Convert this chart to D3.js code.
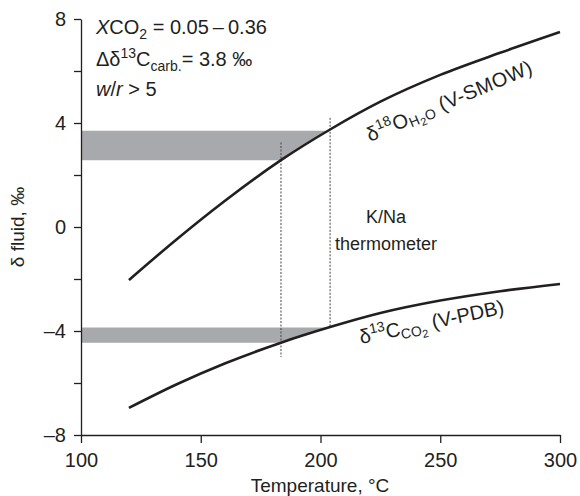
<!DOCTYPE html>
<html>
<head>
<meta charset="utf-8">
<script src="https://cdn.jsdelivr.net/npm/d3@7"></script>
<style>
  body { margin: 0; background: #fff; }
  svg { font-family: "Liberation Sans", Arial, sans-serif; }
</style>
</head>
<body>
<div class="chart"></div>
<script>
// temperature (°C) and curve values (‰)
var oxygenT = [120, 140, 160, 183.5, 204, 225, 250, 275, 300]
var oxygenD = [-2.04, -0.47, 1.0, 2.57, 3.75, 4.82, 5.85, 6.7, 7.5]
var carbonT = [120, 140, 160, 183.5, 204, 225, 250, 275, 300]
var carbonD = [-6.96, -6.05, -5.25, -4.45, -3.85, -3.31, -2.83, -2.47, -2.19]

// grey ranges of measured fluid values: T at top edge, T at bottom edge, top, bottom
var bandTop = [203, 204]
var bandBottom = [183.5, 183.5]
var bandHigh = [3.7, -3.87]
var bandLow = [2.57, -4.45]

// K/Na thermometer range (dotted lines)
var thermoT = [183.5, 204]
var thermoFrom = [3.25, 4.2]
var thermoTo = [-5.0, -3.85]

var xTicks = [100, 150, 200, 250, 300]
var yTicks = [-8, -6, -4, -2, 0, 2, 4, 6, 8]

var ink = "#231f20"

var svg = d3.select(".chart").append("svg")
  .attr("width", 580)
  .attr("height", 496)

var x = d3.scaleLinear().domain([100, 300]).range([81, 560])
var y = d3.scaleLinear().domain([-8, 8]).range([435, 19])

// grey bands
var bands = bandHigh.map(function(h, i) {
  return [[100, h], [bandTop[i], h], [bandBottom[i], bandLow[i]], [100, bandLow[i]]]
})
svg.selectAll(".band")
  .data(bands).enter().append("path")
  .attr("class", "band")
  .attr("fill", "#a7a9ac")
  .attr("d", function(d) {
    return d3.line().x(function(p) { return x(p[0]) }).y(function(p) { return y(p[1]) })(d) + "Z"
  })

// dotted thermometer lines
svg.selectAll(".thermo")
  .data(thermoT).enter().append("line")
  .attr("class", "thermo")
  .attr("x1", function(d) { return x(d) })
  .attr("x2", function(d) { return x(d) })
  .attr("y1", function(d, i) { return y(thermoFrom[i]) })
  .attr("y2", function(d, i) { return y(thermoTo[i]) })
  .attr("stroke", "#444")
  .attr("stroke-width", 1)
  .attr("stroke-dasharray", "2,1.5")

// curves
var line = d3.line()
  .x(function(d) { return x(d[0]) })
  .y(function(d) { return y(d[1]) })
  .curve(d3.curveMonotoneX)

var curves = [
  d3.zip(oxygenT, oxygenD),
  d3.zip(carbonT, carbonD)
]
svg.selectAll(".curve")
  .data(curves).enter().append("path")
  .attr("class", "curve")
  .attr("fill", "none")
  .attr("stroke", ink)
  .attr("stroke-width", 2.6)
  .attr("d", line)

// axes
var xAxis = d3.axisBottom(x).tickValues(xTicks).tickSize(8).tickSizeOuter(0).tickPadding(10)
var yAxis = d3.axisLeft(y).tickValues(yTicks).tickSize(7).tickSizeOuter(0).tickPadding(8)
  .tickFormat(function(d) { return d % 4 == 0 ? (d < 0 ? "\u2013" + (-d) : d) : "" })

svg.append("g")
  .attr("transform", "translate(0,435)")
  .call(xAxis)
svg.append("g")
  .attr("transform", "translate(81,0)")
  .call(yAxis)

svg.selectAll(".domain, .tick line")
  .attr("stroke", ink)
  .attr("stroke-width", 1.3)
svg.selectAll(".tick text")
  .attr("fill", ink)
  .style("font-size", "20px")
  .style("font-family", "Liberation Sans, Arial, sans-serif")

// axis titles
svg.append("text")
  .attr("x", 320).attr("y", 492)
  .attr("text-anchor", "middle")
  .attr("fill", ink)
  .style("font-size", "19px")
  .text("Temperature, °C")

svg.append("text")
  .attr("transform", "translate(24,227) rotate(-90)")
  .attr("text-anchor", "middle")
  .attr("fill", ink)
  .style("font-size", "19px")
  .text("δ fluid, ‰")

// annotations
var note = svg.append("g").attr("fill", ink).style("font-size", "20px")
var t1 = note.append("text").attr("x", 96).attr("y", 34)
t1.append("tspan").style("font-style", "italic").text("X")
t1.append("tspan").text("CO")
t1.append("tspan").attr("dy", 5).style("font-size", "14px").text("2")
t1.append("tspan").attr("dy", -5).text(" = 0.05\u2009\u2013\u20090.36")

var t2 = note.append("text").attr("x", 96).attr("y", 66)
t2.append("tspan").text("Δδ")
t2.append("tspan").attr("dy", -8).style("font-size", "14px").text("13")
t2.append("tspan").attr("dy", 8).text("C")
t2.append("tspan").attr("dy", 5).style("font-size", "14px").text("carb.")
t2.append("tspan").attr("dy", -5).text("= 3.8 ‰")

var t3 = note.append("text").attr("x", 96).attr("y", 96)
t3.append("tspan").style("font-style", "italic").text("w")
t3.append("tspan").text("/")
t3.append("tspan").style("font-style", "italic").text("r")
t3.append("tspan").text(" > 5")

// thermometer label
note.append("text").attr("x", 386).attr("y", 223).attr("text-anchor", "middle")
  .style("font-size", "18px").text("K/Na")
note.append("text").attr("x", 386).attr("y", 250).attr("text-anchor", "middle")
  .style("font-size", "18px").text("thermometer")

// curve labels
var l1 = note.append("text").attr("transform", "translate(370,142) rotate(-23)")
  .style("letter-spacing", "0.4px")
l1.append("tspan").text("δ")
l1.append("tspan").attr("dy", -8).style("font-size", "14px").text("18")
l1.append("tspan").attr("dy", 8).text("O")
l1.append("tspan").attr("dy", 3).style("font-size", "14px").text("H")
l1.append("tspan").attr("dy", 3).style("font-size", "11px").text("2")
l1.append("tspan").attr("dy", -3).style("font-size", "14px").text("O")
l1.append("tspan").attr("dy", -3).text(" (V-SMOW)")

var l2 = note.append("text").attr("transform", "translate(361,344) rotate(-12)")
l2.append("tspan").text("δ")
l2.append("tspan").attr("dy", -8).style("font-size", "14px").text("13")
l2.append("tspan").attr("dy", 8).text("C")
l2.append("tspan").attr("dy", 4).style("font-size", "14px").text("CO")
l2.append("tspan").attr("dy", 3).style("font-size", "11px").text("2")
l2.append("tspan").attr("dy", -7).text(" (V-PDB)")
</script>
</body>
</html>
